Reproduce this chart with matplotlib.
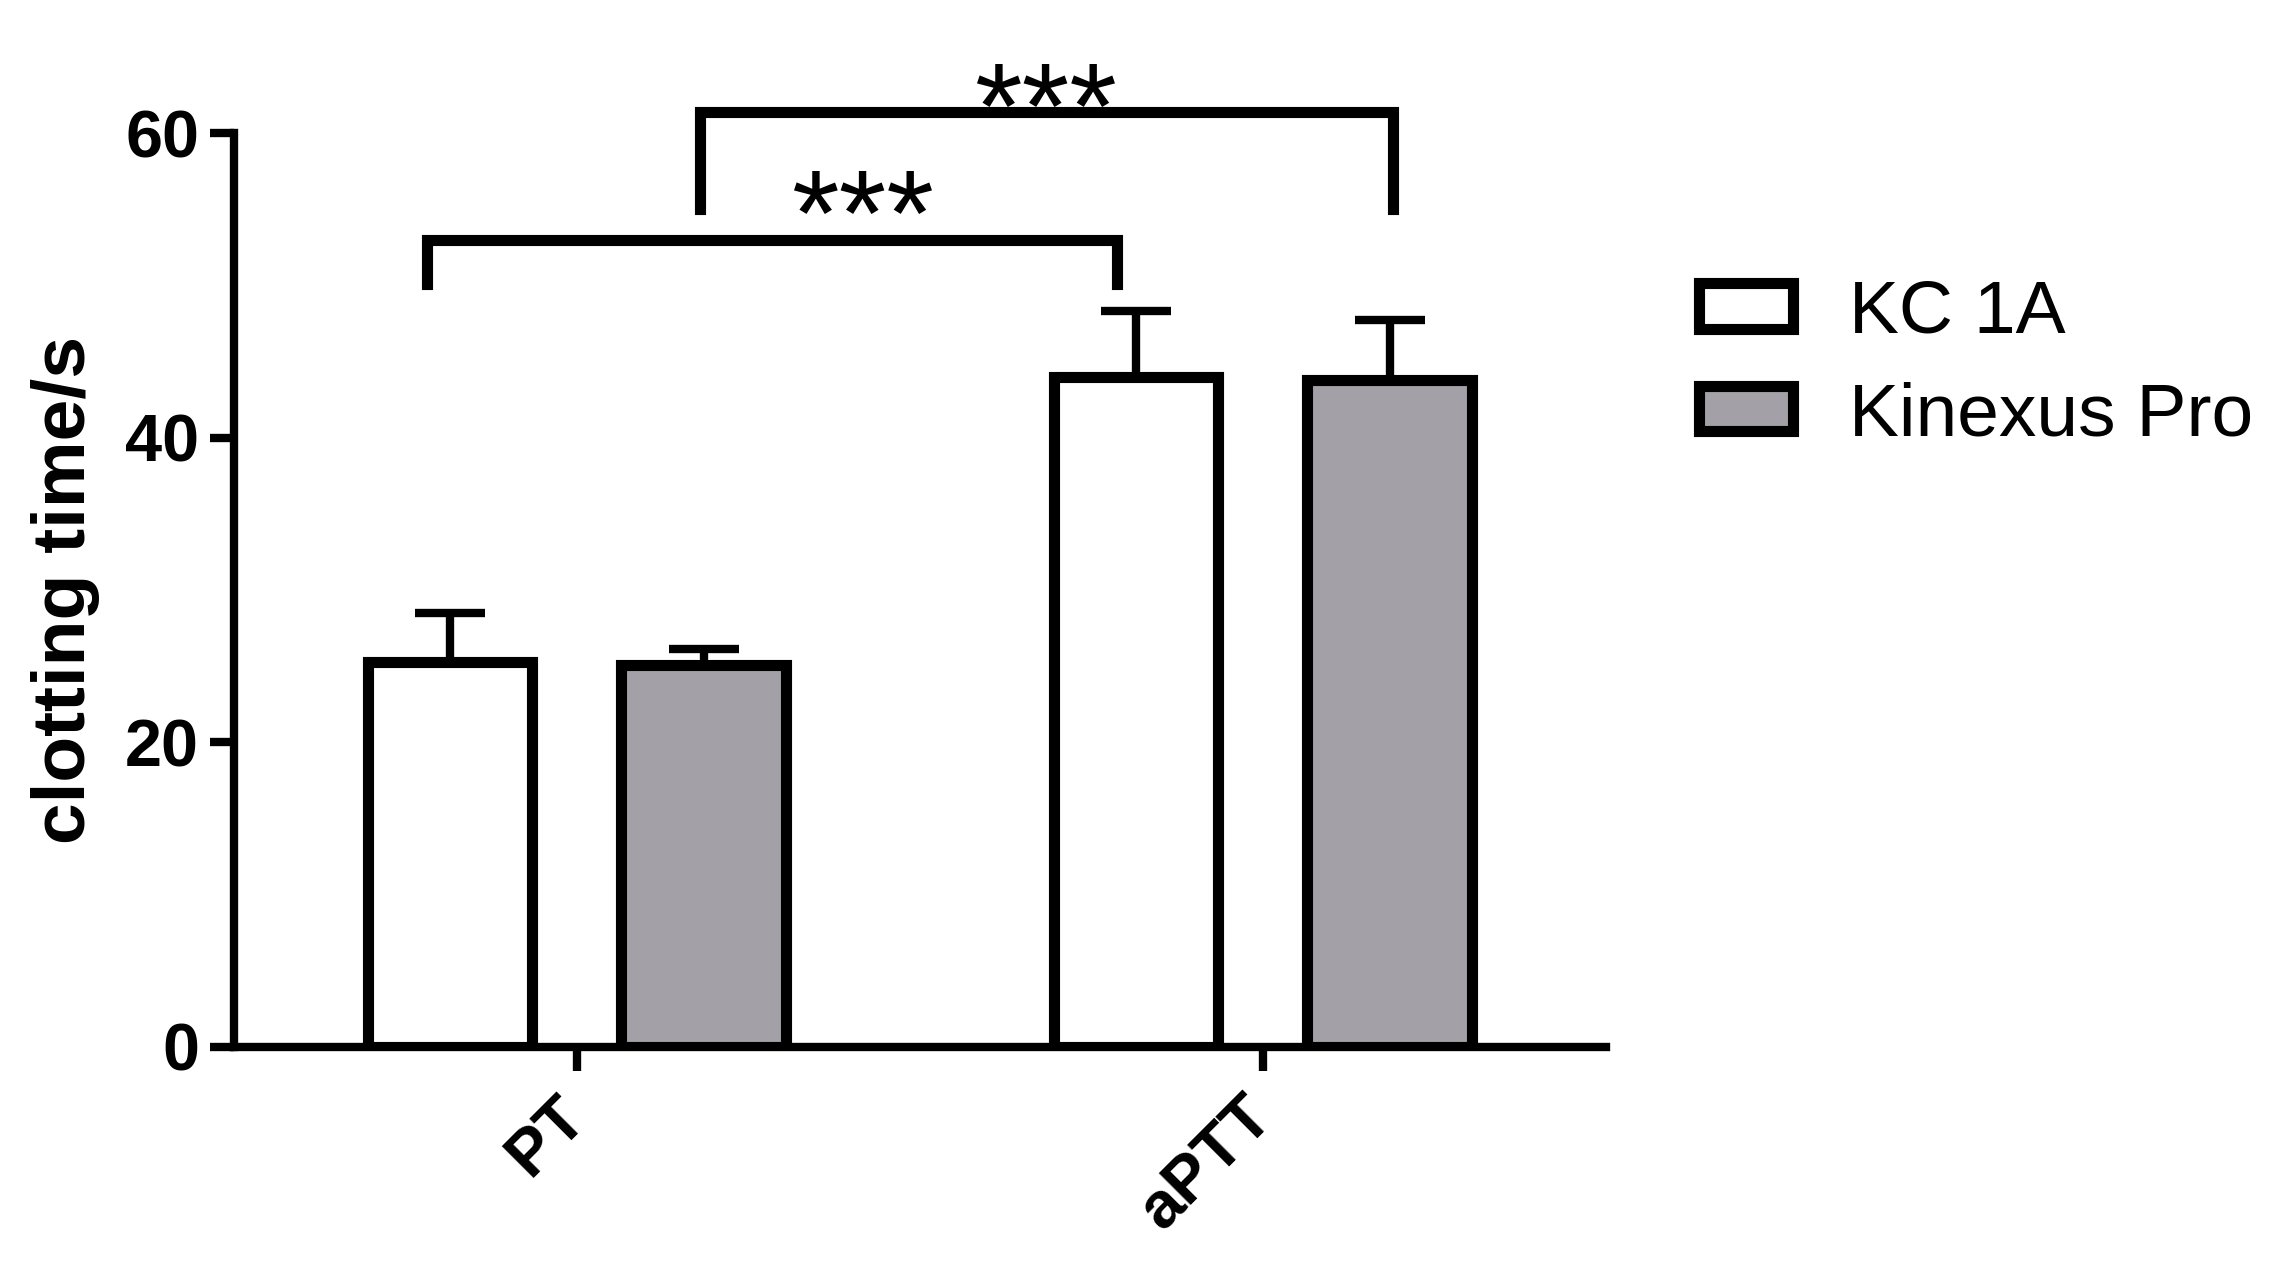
import matplotlib.pyplot as plt
from matplotlib.patches import Patch

plt.rcParams['font.family'] = ['Liberation Sans', 'DejaVu Sans']

# ---- data ----
groups = ['PT', 'aPTT']
series = ['KC 1A', 'Kinexus Pro']
kc1a_mean = [25.3, 44.0]
kc1a_err = [3.2, 4.3]
kinexus_mean = [25.1, 43.8]
kinexus_err = [1.0, 3.9]

# significance brackets: left x, right x, bar height, leg bottom, star position
sig_x1 = [-0.218, 0.18]
sig_x2 = [0.788, 1.19]
sig_y = [53.0, 61.4]
sig_leg = [50.1, 55.0]
sig_star_x = [0.417, 0.683]
sig_star_y = [52.0, 59.0]
sig_text = ['***', '***']

fill = {'KC 1A': 'white', 'Kinexus Pro': '#a3a1a7'}
LW = 8

fig = plt.figure(figsize=(22.73, 12.66), dpi=100)
ax = fig.add_axes([0.1029, 0.1730, 0.6036, 0.7219])

xpos = list(range(len(groups)))
width = 0.24
offset = 0.185

for vals, errs, name, sgn in [(kc1a_mean, kc1a_err, 'KC 1A', -1),
                              (kinexus_mean, kinexus_err, 'Kinexus Pro', 1)]:
    xs = [x + sgn * offset for x in xpos]
    ax.errorbar(xs, vals, yerr=[[0] * len(errs), errs], fmt='none',
                ecolor='black', elinewidth=6, capsize=25, capthick=6, zorder=2)
    ax.bar(xs, vals, width=width, color=fill[name], edgecolor='black',
           linewidth=LW, zorder=3)

# brackets and stars
for x1, x2, y, yl, sx, sy, txt in zip(sig_x1, sig_x2, sig_y, sig_leg,
                                      sig_star_x, sig_star_y, sig_text):
    ax.plot([x1, x1, x2, x2], [yl, y, y, yl], color='black', lw=LW,
            solid_joinstyle='miter', clip_on=False, zorder=4)
    ax.text(sx, sy, txt, ha='center', va='baseline', fontsize=88,
            clip_on=False, zorder=5)

ax.set_xlim(-0.5, 1.5)
ax.set_ylim(0, 60)
ax.set_yticks([0, 20, 40, 60])
ax.set_xticks(xpos)
ax.set_xticklabels(groups, rotation=45, ha='right', va='center',
                   rotation_mode='anchor', fontsize=47, fontweight='bold')
for lbl in ax.get_yticklabels():
    lbl.set_fontsize(48)
    lbl.set_fontweight('bold')
ax.tick_params(axis='both', width=6, length=17, pad=8, color='black')
ax.tick_params(axis='x', pad=26)

for side in ['top', 'right']:
    ax.spines[side].set_visible(False)
for side in ['left', 'bottom']:
    ax.spines[side].set_linewidth(6)

ax.set_ylabel('clotting time/s', fontsize=54, fontweight='bold', labelpad=18)

handles = [Patch(facecolor=fill[s], edgecolor='black', linewidth=LW,
                 joinstyle='round', label=s) for s in series]
fig.legend(handles=handles, loc='upper left', bbox_to_anchor=(0.7475, 0.78),
           frameon=False, fontsize=54, handlelength=1.25, handleheight=0.55,
           handletextpad=0.75, labelspacing=0.45, borderpad=0, borderaxespad=0)

fig.savefig('out.png', dpi=100)
